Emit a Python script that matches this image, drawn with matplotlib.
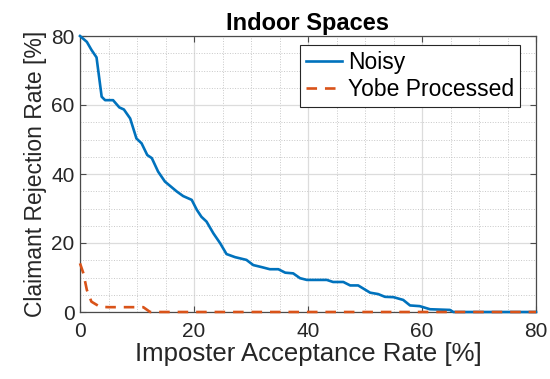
import matplotlib
matplotlib.use('Agg')
import matplotlib.pyplot as plt
from matplotlib.ticker import MultipleLocator

plt.rcParams['font.family'] = ['Liberation Sans', 'DejaVu Sans']

# Noisy speech curve
noisy_x = [0, 1.2, 2.0, 2.9, 3.8, 4.4, 5.8, 6.9, 7.7, 8.8, 9.9, 10.8, 11.8, 12.6,
           13.7, 14.9, 17.0, 18.1, 19.6, 20.5, 21.3, 22.2, 23.4, 24.6, 25.7, 27.2,
           29.2, 30.4, 31.9, 33.3, 34.8, 36.0, 37.4, 38.6, 39.8, 43.3, 44.4, 46.2,
           47.4, 48.8, 50.9, 52.3, 53.5, 55.0, 56.7, 57.9, 59.6, 61.4, 64.9, 65.5, 80]
noisy_y = [80, 78.3, 76, 73.8, 62.4, 61.4, 61.4, 59.3, 58.7, 56.1, 50.3, 48.9, 45.5, 44.6,
           40.7, 37.8, 34.9, 33.6, 32.5, 29.6, 27.6, 26.2, 22.8, 19.9, 16.8, 15.9,
           15.1, 13.6, 13.0, 12.4, 12.4, 11.4, 11.2, 9.8, 9.3, 9.3, 8.7, 8.7,
           7.7, 7.7, 5.6, 5.2, 4.4, 4.3, 3.5, 1.9, 1.7, 0.8, 0.6, 0, 0]

# After Yobe processing
yobe_x = [0, 0.6, 1.2, 2.0, 3.5, 5.0, 11.1, 12.3, 80]
yobe_y = [14.1, 11.2, 6.4, 3.0, 1.5, 1.4, 1.4, 0, 0]

fig = plt.figure(figsize=(5.5, 3.79), dpi=100)
ax = fig.add_axes([80 / 550, 67 / 379, 456 / 550, 276 / 379])

ax.plot(noisy_x, noisy_y, color='#0072BD', lw=1.9, label='Noisy', clip_on=False, zorder=3)
ax.plot(yobe_x, yobe_y, color='#D95319', lw=1.9, ls=(0, (4, 3)), label='Yobe Processed',
        clip_on=False, zorder=4)

ax.set_xlim(0, 80)
ax.set_ylim(0, 80)
ax.xaxis.set_major_locator(MultipleLocator(20))
ax.yaxis.set_major_locator(MultipleLocator(20))
ax.xaxis.set_minor_locator(MultipleLocator(5))
ax.yaxis.set_minor_locator(MultipleLocator(5))

ax.grid(which='major', color='#dcdcdc', lw=0.9, ls='-')
ax.grid(which='minor', color='#c8c8c8', lw=0.7, ls=':')
ax.set_axisbelow(True)

for s in ax.spines.values():
    s.set_color('#4a4a4a')
    s.set_linewidth(0.9)
ax.tick_params(which='major', direction='in', top=True, right=True, length=4,
               width=0.8, color='#4a4a4a', labelsize=15, labelcolor='#262626')
ax.tick_params(axis='x', pad=7)
ax.tick_params(axis='y', pad=4)
ax.tick_params(which='minor', length=0)

ax.set_title('Indoor Spaces', fontsize=17, fontweight='bold', pad=4)
ax.set_xlabel('Imposter Acceptance Rate [%]', fontsize=18.5, color='#262626', labelpad=1)
ax.set_ylabel('Claimant Rejection Rate [%]', fontsize=16.5, color='#262626', labelpad=3)

leg = ax.legend(loc='upper right', bbox_to_anchor=(0.965, 0.967), borderaxespad=0,
                fontsize=16.5, handlelength=1.6, handletextpad=0.25, borderpad=0.25,
                labelspacing=0.2, fancybox=False, framealpha=1, edgecolor='#262626')
leg.get_frame().set_linewidth(0.8)

fig.savefig('out.png', dpi=100)
